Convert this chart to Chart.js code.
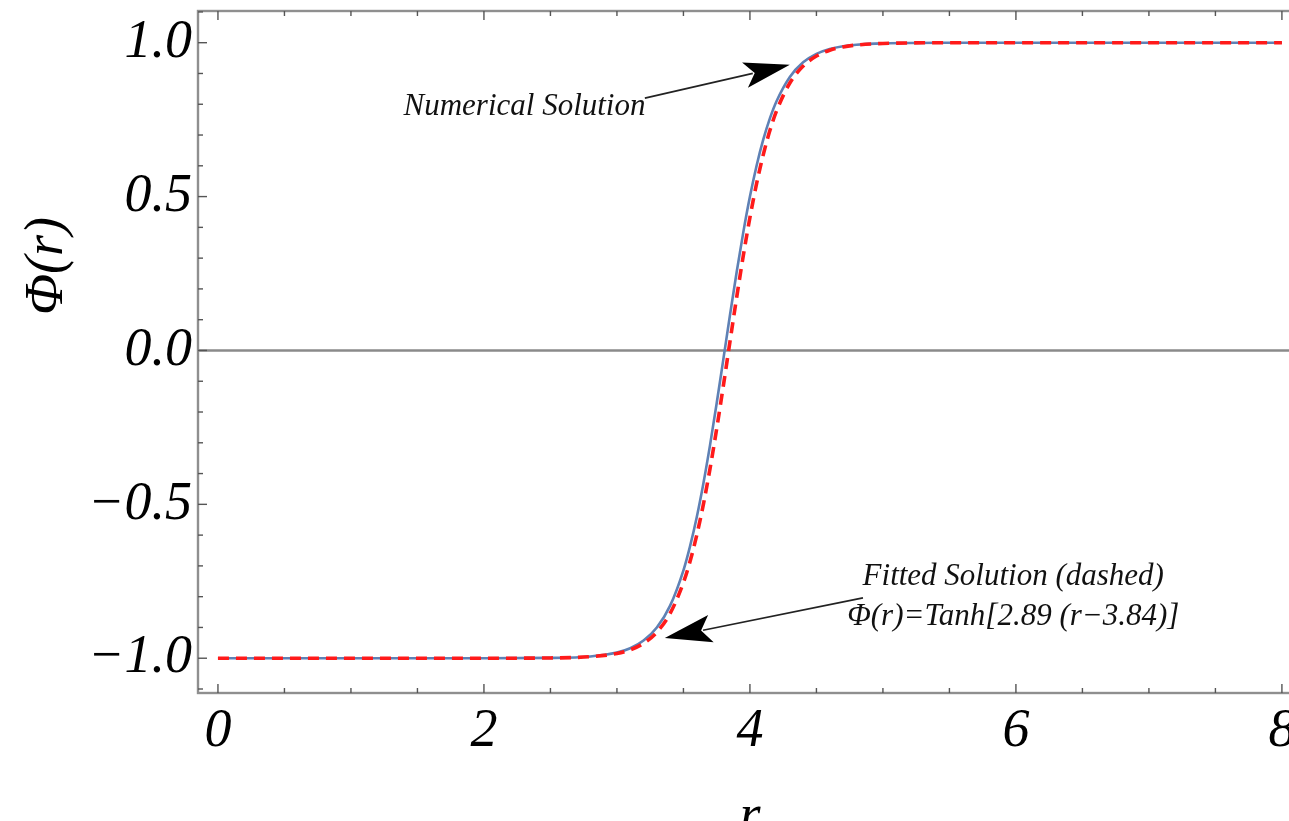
<!DOCTYPE html>
<html>
<head>
<meta charset="utf-8">
<script src="https://cdn.jsdelivr.net/npm/chart.js@4.4.1/dist/chart.umd.min.js"></script>
<style>
  html, body { margin: 0; padding: 0; background: #fff; overflow: hidden; }
  #wrap { width: 1300px; height: 821px; }
</style>
</head>
<body>
<div id="wrap"><canvas id="c" width="1300" height="821"></canvas></div>
<script>
// ---- data ----
const rValues = [0, 1, 2, 2.5, 2.8, 3.0, 3.1, 3.2, 3.3, 3.4, 3.5, 3.55, 3.6, 3.65, 3.7, 3.75, 3.8, 3.85, 3.9, 3.95, 4.0, 4.05, 4.1, 4.15, 4.2, 4.3, 4.4, 4.5, 4.6, 4.7, 4.8, 5.0, 5.5, 6, 7, 8];
const numericalPhi = [-1, -1, -1, -0.9990, -0.9942, -0.9816, -0.9677, -0.9427, -0.9004, -0.8291, -0.7144, -0.6357, -0.5419, -0.4321, -0.3077, -0.1717, -0.0289, 0.1151, 0.2543, 0.3838, 0.4999, 0.6003, 0.6848, 0.7541, 0.8099, 0.8888, 0.9363, 0.9636, 0.9794, 0.9884, 0.9935, 0.9979, 0.9999, 1, 1, 1];
const fittedPhi = [-1, -1, -1, -0.9991, -0.9951, -0.9845, -0.9727, -0.9517, -0.9155, -0.8543, -0.7541, -0.6848, -0.6003, -0.4999, -0.3838, -0.2543, -0.1151, 0.0289, 0.1717, 0.3077, 0.4321, 0.5419, 0.6357, 0.7144, 0.7781, 0.8690, 0.9241, 0.9566, 0.9755, 0.9862, 0.9923, 0.9975, 0.9999, 1, 1, 1];

const xTickValues = [0, 2, 4, 6, 8];
const xTickLabels = ['0', '2', '4', '6', '8'];
const yTickValues = [-1, -0.5, 0, 0.5, 1];
const yTickLabels = ['\u22121.0', '\u22120.5', '0.0', '0.5', '1.0'];

const xTitle = 'r';
const yTitle = '\u03A6(r)';
const numericalLabel = 'Numerical Solution';
const fittedLabel1 = 'Fitted Solution (dashed)';
const fittedLabel2 = '\u03A6(r)=Tanh[2.89 (r\u22123.84)]';

// annotation anchors in data units (r, Phi)
const numTextAt = [2.305, 0.765];
const numArrowFrom = [3.21, 0.82];
const numArrowTo = [4.30, 0.928];
const fitText1At = [5.98, -0.762];
const fitText2At = [5.98, -0.892];
const fitArrowFrom = [4.85, -0.804];
const fitArrowTo = [3.36, -0.934];

const SERIF = '"Liberation Serif", "DejaVu Serif", serif';
const FRAME = '#8f8f8f';

function toPts(ys) { return rValues.map((r, i) => ({ x: r, y: ys[i] })); }

function arrow(ctx, x1, y1, x2, y2, headLen, headHalf) {
  const a = Math.atan2(y2 - y1, x2 - x1);
  const bx = x2 - headLen * Math.cos(a), by = y2 - headLen * Math.sin(a);
  ctx.beginPath();
  ctx.moveTo(x1, y1);
  ctx.lineTo(bx + 8 * Math.cos(a), by + 8 * Math.sin(a));
  ctx.strokeStyle = '#222';
  ctx.lineWidth = 1.6;
  ctx.stroke();
  const nx = -Math.sin(a), ny = Math.cos(a);
  ctx.beginPath();
  ctx.moveTo(x2, y2);
  ctx.lineTo(bx + nx * headHalf, by + ny * headHalf);
  ctx.lineTo(bx + 10 * Math.cos(a), by + 10 * Math.sin(a));
  ctx.lineTo(bx - nx * headHalf, by - ny * headHalf);
  ctx.closePath();
  ctx.fillStyle = '#000';
  ctx.fill();
}

const framePlugin = {
  id: 'framePlugin',
  beforeDatasetsDraw(chart) {
    const { ctx, chartArea: ca, scales: { x, y } } = chart;
    ctx.save();
    const y0 = y.getPixelForValue(0);
    ctx.strokeStyle = '#8a8a8a';
    ctx.lineWidth = 2.6;
    ctx.beginPath();
    ctx.moveTo(ca.left, y0);
    ctx.lineTo(ca.right, y0);
    ctx.stroke();
    ctx.restore();
  },
  afterDraw(chart) {
    const { ctx, chartArea: ca, scales: { x, y } } = chart;
    ctx.save();
    // frame
    ctx.strokeStyle = FRAME;
    ctx.lineWidth = 2.4;
    ctx.strokeRect(ca.left, ca.top, ca.right - ca.left, ca.bottom - ca.top);
    // x ticks (inward, top and bottom)
    ctx.lineWidth = 1.4;
    ctx.strokeStyle = '#555';
    for (let v = 0; v <= 8.001; v += 0.5) {
      const px = x.getPixelForValue(v);
      const major = xTickValues.some(t => Math.abs(t - v) < 1e-6);
      const len = major ? 9 : 5;
      ctx.beginPath();
      ctx.moveTo(px, ca.bottom); ctx.lineTo(px, ca.bottom - len);
      ctx.moveTo(px, ca.top); ctx.lineTo(px, ca.top + len);
      ctx.stroke();
    }
    // y ticks (inward, left)
    for (let k = -11; k <= 11; k++) {
      const v = k / 10;
      if (v < y.min || v > y.max) continue;
      const py = y.getPixelForValue(v);
      const major = yTickValues.some(t => Math.abs(t - v) < 1e-6);
      const len = major ? 9 : 5;
      ctx.beginPath();
      ctx.moveTo(ca.left, py); ctx.lineTo(ca.left + len, py);
      ctx.stroke();
    }
    // axis titles
    ctx.fillStyle = '#000';
    ctx.font = 'italic 54px ' + SERIF;
    ctx.textAlign = 'center';
    ctx.textBaseline = 'alphabetic';
    ctx.save();
    ctx.translate(62, 266);
    ctx.rotate(-Math.PI / 2);
    ctx.fillText(yTitle, 0, 0);
    ctx.restore();
    ctx.fillText(xTitle, x.getPixelForValue(4), 832);

    // annotations
    ctx.font = 'italic 31px ' + SERIF;
    ctx.fillStyle = '#111';
    ctx.textAlign = 'center';
    ctx.fillText(numericalLabel, x.getPixelForValue(numTextAt[0]), y.getPixelForValue(numTextAt[1]));
    ctx.fillText(fittedLabel1, x.getPixelForValue(fitText1At[0]), y.getPixelForValue(fitText1At[1]));
    ctx.fillText(fittedLabel2, x.getPixelForValue(fitText2At[0]), y.getPixelForValue(fitText2At[1]));
    arrow(ctx, x.getPixelForValue(numArrowFrom[0]), y.getPixelForValue(numArrowFrom[1]),
               x.getPixelForValue(numArrowTo[0]), y.getPixelForValue(numArrowTo[1]), 46, 13);
    arrow(ctx, x.getPixelForValue(fitArrowFrom[0]), y.getPixelForValue(fitArrowFrom[1]),
               x.getPixelForValue(fitArrowTo[0]), y.getPixelForValue(fitArrowTo[1]), 47, 14);
    ctx.restore();
  }
};

new Chart(document.getElementById('c'), {
  type: 'line',
  data: {
    datasets: [
      {
        label: 'Numerical Solution',
        data: toPts(numericalPhi),
        borderColor: '#5E81B5',
        borderWidth: 2.6,
        pointRadius: 0,
        cubicInterpolationMode: 'monotone',
        fill: false,
        order: 2
      },
      {
        label: 'Fitted Solution',
        data: toPts(fittedPhi),
        borderColor: '#FF1A1A',
        borderWidth: 3.6,
        borderDash: [11, 7],
        pointRadius: 0,
        cubicInterpolationMode: 'monotone',
        fill: false,
        order: 1
      }
    ]
  },
  options: {
    responsive: false,
    animation: false,
    events: [],
    layout: { padding: { top: 11, right: 0, left: 0, bottom: 0 } },
    plugins: { legend: { display: false }, tooltip: { enabled: false }, title: { display: false } },
    scales: {
      x: {
        type: 'linear',
        min: -0.15,
        max: 8.136,
        grid: { display: false, drawTicks: false },
        border: { display: false },
        afterBuildTicks(s) { s.ticks = xTickValues.map(v => ({ value: v })); },
        afterFit(s) { s.height = 128; s.paddingLeft = 0; s.paddingRight = 0; },
        ticks: {
          padding: 6,
          maxRotation: 0,
          autoSkip: false,
          color: '#000',
          font: { family: SERIF, size: 54, style: 'italic' },
          callback: (v) => { const i = xTickValues.indexOf(v); return i >= 0 ? xTickLabels[i] : ''; }
        }
      },
      y: {
        type: 'linear',
        min: -1.113,
        max: 1.103,
        grid: { display: false, drawTicks: false },
        border: { display: false },
        afterBuildTicks(s) { s.ticks = yTickValues.map(v => ({ value: v })); },
        afterFit(s) { s.width = 198; s.paddingTop = 0; s.paddingBottom = 0; },
        ticks: {
          padding: 6,
          autoSkip: false,
          color: '#000',
          font: { family: SERIF, size: 54, style: 'italic' },
          callback: (v) => { const i = yTickValues.indexOf(v); return i >= 0 ? yTickLabels[i] : ''; }
        }
      }
    }
  },
  plugins: [framePlugin]
});
</script>
</body>
</html>
